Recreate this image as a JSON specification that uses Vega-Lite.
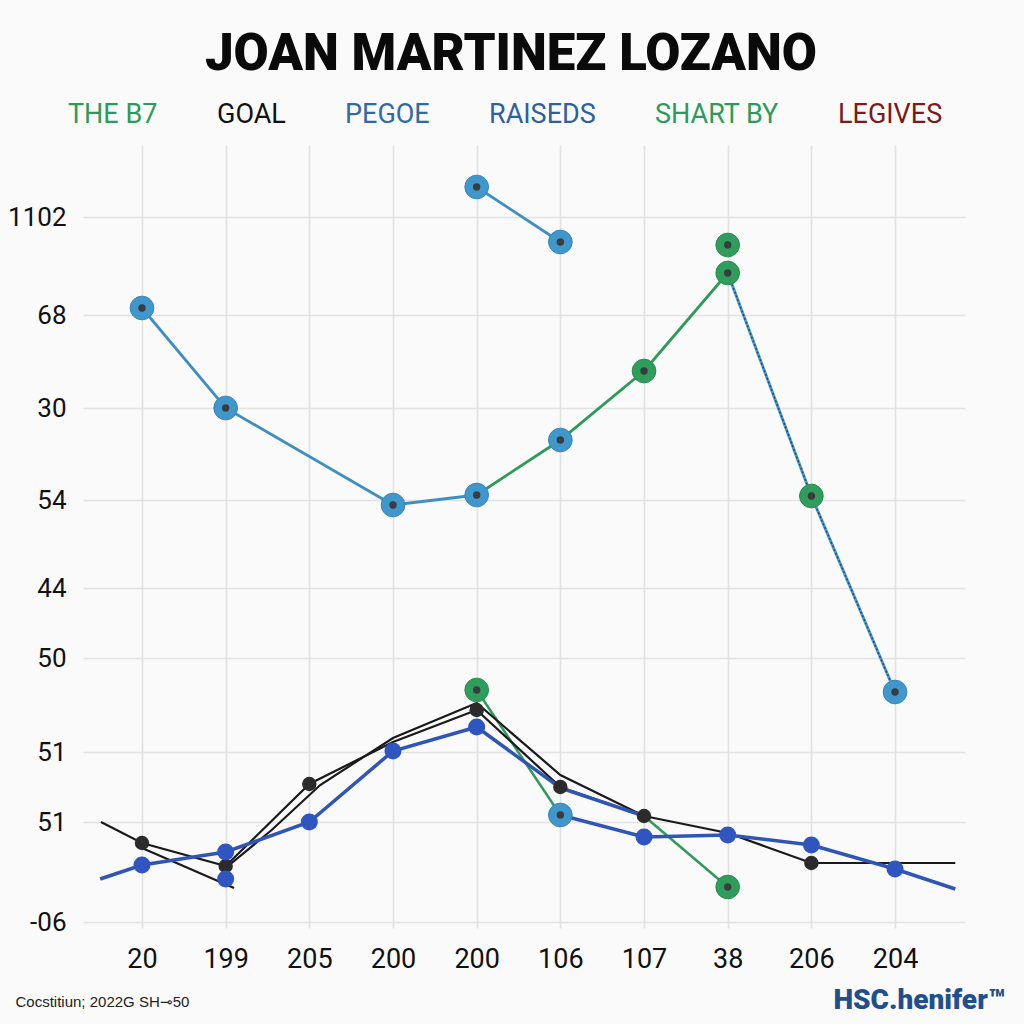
{
  "$schema": "https://vega.github.io/schema/vega-lite/v6.json",
  "width": 882,
  "height": 783,
  "autosize": {"type": "none"},
  "padding": {"left": 83, "top": 145, "right": 59, "bottom": 96},
  "background": "#fafafa",
  "title": {
    "text": "JOAN MARTINEZ LOZANO",
    "fontSize": 51,
    "fontWeight": 900,
    "font": "Roboto",
    "color": "#0a0a0a",
    "anchor": "middle",
    "dx": -13,
    "offset": 20
  },
  "datasets": {
    "lines": [
      {"s": "PEGOE", "seg": "a", "i": 0, "v": 620},
      {"s": "PEGOE", "seg": "a", "i": 1, "v": 520},
      {"s": "PEGOE", "seg": "a", "i": 3, "v": 423},
      {"s": "PEGOE", "seg": "a", "i": 4, "v": 433},
      {"s": "PEGOE", "seg": "b", "i": 4, "v": 741},
      {"s": "PEGOE", "seg": "b", "i": 5, "v": 686},
      {"s": "THE B7", "seg": "a", "i": 4, "v": 433},
      {"s": "THE B7", "seg": "a", "i": 5, "v": 488},
      {"s": "THE B7", "seg": "a", "i": 6, "v": 557},
      {"s": "THE B7", "seg": "a", "i": 7, "v": 655},
      {"s": "SHART BY", "seg": "a", "i": 4, "v": 238},
      {"s": "SHART BY", "seg": "a", "i": 5, "v": 113},
      {"s": "SHART BY", "seg": "b", "i": 6, "v": 112},
      {"s": "SHART BY", "seg": "b", "i": 7, "v": 41},
      {"s": "GOAL", "seg": "a", "i": -0.49, "v": 106},
      {"s": "GOAL", "seg": "a", "i": 0, "v": 85},
      {"s": "GOAL", "seg": "a", "i": 1, "v": 62},
      {"s": "GOAL", "seg": "a", "i": 2, "v": 144},
      {"s": "GOAL", "seg": "a", "i": 3, "v": 186},
      {"s": "GOAL", "seg": "a", "i": 4, "v": 218},
      {"s": "GOAL", "seg": "a", "i": 5, "v": 141},
      {"s": "GOAL", "seg": "a", "i": 6, "v": 112},
      {"s": "GOAL", "seg": "a", "i": 7, "v": 95},
      {"s": "GOAL", "seg": "a", "i": 8, "v": 65},
      {"s": "GOAL", "seg": "a", "i": 9.72, "v": 65},
      {"s": "GOAL", "seg": "b", "i": 0, "v": 80},
      {"s": "GOAL", "seg": "b", "i": 1.1, "v": 40},
      {"s": "GOAL", "seg": "c", "i": 1, "v": 60},
      {"s": "GOAL", "seg": "c", "i": 1.55, "v": 98},
      {"s": "GOAL", "seg": "c", "i": 2.13, "v": 143},
      {"s": "GOAL", "seg": "c", "i": 3, "v": 190},
      {"s": "GOAL", "seg": "c", "i": 4, "v": 225},
      {"s": "GOAL", "seg": "c", "i": 5, "v": 153},
      {"s": "GOAL", "seg": "c", "i": 6, "v": 112},
      {"s": "RAISEDS", "seg": "a", "i": -0.5, "v": 49},
      {"s": "RAISEDS", "seg": "a", "i": 0, "v": 63},
      {"s": "RAISEDS", "seg": "a", "i": 1, "v": 76},
      {"s": "RAISEDS", "seg": "a", "i": 2, "v": 106},
      {"s": "RAISEDS", "seg": "a", "i": 3, "v": 177},
      {"s": "RAISEDS", "seg": "a", "i": 4, "v": 201},
      {"s": "RAISEDS", "seg": "a", "i": 5, "v": 140},
      {"s": "RAISEDS", "seg": "a", "i": 6, "v": 112},
      {"s": "RAISEDS", "seg": "b", "i": 5, "v": 113},
      {"s": "RAISEDS", "seg": "b", "i": 6, "v": 91},
      {"s": "RAISEDS", "seg": "b", "i": 7, "v": 93},
      {"s": "RAISEDS", "seg": "b", "i": 8, "v": 83},
      {"s": "RAISEDS", "seg": "b", "i": 9, "v": 59},
      {"s": "RAISEDS", "seg": "b", "i": 9.72, "v": 39}
    ],
    "dotted": [
      {"i": 7, "v": 655},
      {"i": 8, "v": 432},
      {"i": 9, "v": 236}
    ],
    "points": [
      {"k": "up_blue", "i": 0, "v": 620},
      {"k": "up_blue", "i": 1, "v": 520},
      {"k": "up_blue", "i": 3, "v": 423},
      {"k": "up_blue", "i": 4, "v": 433},
      {"k": "up_blue", "i": 5, "v": 488},
      {"k": "up_blue", "i": 4, "v": 741},
      {"k": "up_blue", "i": 5, "v": 686},
      {"k": "up_blue", "i": 9, "v": 236},
      {"k": "up_blue", "i": 5, "v": 113},
      {"k": "up_green", "i": 6, "v": 557},
      {"k": "up_green", "i": 7, "v": 683},
      {"k": "up_green", "i": 7, "v": 655},
      {"k": "up_green", "i": 8, "v": 432},
      {"k": "up_green", "i": 4, "v": 238},
      {"k": "up_green", "i": 7, "v": 41},
      {"k": "low_blue", "i": 0, "v": 63},
      {"k": "low_blue", "i": 1, "v": 76},
      {"k": "low_blue", "i": 1, "v": 49},
      {"k": "low_blue", "i": 2, "v": 106},
      {"k": "low_blue", "i": 3, "v": 177},
      {"k": "low_blue", "i": 4, "v": 201},
      {"k": "low_blue", "i": 6, "v": 91},
      {"k": "low_blue", "i": 7, "v": 93},
      {"k": "low_blue", "i": 8, "v": 83},
      {"k": "low_blue", "i": 9, "v": 59},
      {"k": "low_black", "i": 0, "v": 85},
      {"k": "low_black", "i": 1, "v": 62},
      {"k": "low_black", "i": 2, "v": 144},
      {"k": "low_black", "i": 4, "v": 218},
      {"k": "low_black", "i": 5, "v": 141},
      {"k": "low_black", "i": 6, "v": 112},
      {"k": "low_black", "i": 8, "v": 65}
    ]
  },
  "encoding": {
    "x": {
      "field": "i",
      "type": "quantitative",
      "scale": {"domain": [-0.705, 9.836], "nice": false, "zero": false},
      "axis": {
        "values": [0, 1, 2, 3, 4, 5, 6, 7, 8, 9],
        "labelExpr": "['20','199','205','200','200','106','107','38','206','204'][datum.value]",
        "grid": true,
        "domain": false,
        "ticks": false,
        "labelPadding": 18,
        "labelFontSize": 27,
        "labelFont": "Roboto, sans-serif",
        "labelColor": "#111111",
        "title": "Cocstitiun; 2022G SH⊸50",
        "titleX": -68,
        "titleY": 73,
        "titleAnchor": "start",
        "titleAlign": "left",
        "titleBaseline": "middle",
        "titleFontSize": 15,
        "titleFontWeight": "normal",
        "titleFont": "Liberation Sans, Roboto, sans-serif",
        "titleColor": "#222222"
      }
    },
    "y": {
      "field": "v",
      "type": "quantitative",
      "scale": {"domain": [0, 783], "nice": false, "zero": false},
      "axis": {
        "values": [6, 106, 176, 270, 340, 428, 520, 613, 711],
        "labelExpr": "{'6':'-06','106':'51','176':'51','270':'50','340':'44','428':'54','520':'30','613':'68','711':'1102'}[datum.value + '']",
        "grid": true,
        "domain": false,
        "ticks": false,
        "labelPadding": 17,
        "labelFontSize": 26,
        "labelFont": "Roboto, sans-serif",
        "labelColor": "#111111",
        "title": "HSC.henifer™",
        "titleAngle": 0,
        "titleX": 922,
        "titleY": 855,
        "titleAlign": "right",
        "titleAnchor": "end",
        "titleBaseline": "middle",
        "titleFontSize": 28,
        "titleFontWeight": 900,
        "titleFont": "Roboto, sans-serif",
        "titleColor": "#1f4f8f"
      }
    }
  },
  "layer": [
    {
      "data": {"name": "lines"},
      "transform": [{"filter": "datum.s == 'SHART BY'"}],
      "mark": {"type": "line", "strokeWidth": 2.5},
      "encoding": {
        "color": {
          "field": "s",
          "type": "nominal",
          "scale": {
            "domain": ["THE B7", "GOAL", "PEGOE", "RAISEDS", "SHART BY", "LEGIVES"],
            "range": ["#2e9a5a", "#1a1a1a", "#3d8fc2", "#2f55b5", "#2e9a5a", "#7a1a1a"]
          },
          "legend": {
            "orient": "none",
            "legendX": -42,
            "legendY": -44,
            "direction": "horizontal",
            "title": null,
            "symbolSize": 0,
            "symbolStrokeWidth": 0,
            "symbolOpacity": 0,
            "labelOffset": 0,
            "columnPadding": 32,
            "labelFontSize": 27,
            "labelFont": "Roboto, sans-serif",
            "labelLimit": 300,
            "labelColor": {"expr": "datum.value == 'GOAL' ? '#111111' : datum.value == 'PEGOE' ? '#2f6aa8' : datum.value == 'RAISEDS' ? '#2e5f9f' : datum.value == 'LEGIVES' ? '#7a1a1a' : '#2e9a5a'"}
          }
        },
        "detail": {"field": "seg"}
      }
    },
    {
      "data": {"name": "lines"},
      "transform": [{"filter": "datum.s == 'GOAL'"}],
      "mark": {"type": "line", "strokeWidth": 2.2},
      "encoding": {"color": {"field": "s", "type": "nominal"}, "detail": {"field": "seg"}}
    },
    {
      "data": {"name": "lines"},
      "transform": [{"filter": "datum.s == 'RAISEDS'"}],
      "mark": {"type": "line", "strokeWidth": 3.5},
      "encoding": {"color": {"field": "s", "type": "nominal"}, "detail": {"field": "seg"}}
    },
    {
      "data": {"name": "lines"},
      "transform": [{"filter": "datum.s == 'PEGOE' || datum.s == 'THE B7'"}],
      "mark": {"type": "line", "strokeWidth": 2.8},
      "encoding": {"color": {"field": "s", "type": "nominal"}, "detail": {"field": "seg"}}
    },
    {
      "data": {"name": "dotted"},
      "mark": {"type": "line", "strokeWidth": 3, "color": "#4a9ad0"},
      "encoding": {}
    },
    {
      "data": {"name": "dotted"},
      "mark": {"type": "line", "strokeWidth": 1.4, "color": "#2a4560", "strokeDash": [2, 2]},
      "encoding": {}
    },
    {
      "data": {"name": "points"},
      "transform": [{"filter": "datum.k == 'low_black'"}],
      "mark": {"type": "circle", "size": 210, "opacity": 1, "color": "#2b2b2b"},
      "encoding": {}
    },
    {
      "data": {"name": "points"},
      "transform": [{"filter": "datum.k == 'low_blue'"}],
      "mark": {"type": "circle", "size": 290, "opacity": 1, "color": "#2f55c0"},
      "encoding": {}
    },
    {
      "data": {"name": "points"},
      "transform": [{"filter": "datum.k == 'up_blue'"}],
      "mark": {"type": "circle", "size": 560, "opacity": 1, "color": "#3f97cc", "stroke": "#3584b8", "strokeWidth": 1},
      "encoding": {}
    },
    {
      "data": {"name": "points"},
      "transform": [{"filter": "datum.k == 'up_green'"}],
      "mark": {"type": "circle", "size": 560, "opacity": 1, "color": "#2f9e5c", "stroke": "#288a50", "strokeWidth": 1},
      "encoding": {}
    },
    {
      "data": {"name": "points"},
      "transform": [{"filter": "datum.k == 'up_blue' || datum.k == 'up_green'"}],
      "mark": {"type": "circle", "size": 55, "opacity": 1, "color": "#3a3d40"},
      "encoding": {}
    }
  ],
  "config": {
    "view": {"stroke": null},
    "axis": {"gridColor": "#e2e2e2", "gridWidth": 1.6}
  }
}
